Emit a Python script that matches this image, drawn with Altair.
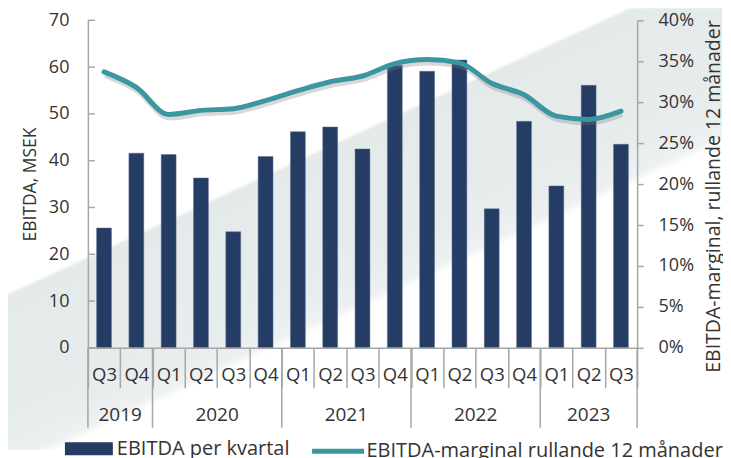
import altair as alt
import pandas as pd

# ---- data ----
quarters = ["Q3", "Q4", "Q1", "Q2", "Q3", "Q4", "Q1", "Q2", "Q3", "Q4",
            "Q1", "Q2", "Q3", "Q4", "Q1", "Q2", "Q3"]
years = [2019, 2019, 2020, 2020, 2020, 2020, 2021, 2021, 2021, 2021,
         2022, 2022, 2022, 2022, 2023, 2023, 2023]
ebitda = [25.6, 41.6, 41.3, 36.3, 24.8, 40.9, 46.2, 47.2, 42.5, 60.4,
          59.1, 61.5, 29.7, 48.4, 34.6, 56.1, 43.5]
margin_pct = [33.7, 31.8, 28.5, 29.0, 29.2, 30.2, 31.4, 32.5, 33.2, 34.7,
              35.2, 34.8, 32.3, 30.9, 28.3, 27.9, 28.9]
left_ticks = [0, 10, 20, 30, 40, 50, 60, 70]
right_ticks = [0, 0.05, 0.10, 0.15, 0.20, 0.25, 0.30, 0.35, 0.40]
bar_label = "EBITDA per kvartal"
line_label = "EBITDA-marginal rullande 12 månader"

keys = [f"{y} {q}" for y, q in zip(years, quarters)]
df = pd.DataFrame({"key": keys, "ebitda": ebitda,
                   "margin": [m / 100 for m in margin_pct],
                   "bar_series": bar_label, "line_series": line_label})

# year groups
year_list = sorted(set(years))
first_keys, mid_even, mid_odd = [], [], []
for yr in year_list:
    idx = [i for i, y in enumerate(years) if y == yr]
    first_keys.append(keys[idx[0]])
    n = len(idx)
    if n % 2 == 0:
        mid_even.append({"key": keys[idx[0] + n // 2], "year": str(yr)})
    else:
        mid_odd.append({"key": keys[idx[0] + n // 2], "year": str(yr)})

FONT = "Open Sans"
TXT = "#333333"
GRAY = "#a6a6a6"
NAVY = "#253c64"
TEAL = "#3a979f"

x_enc = alt.X("key:N", sort=keys, title=None,
              scale=alt.Scale(paddingInner=0, paddingOuter=0),
              axis=alt.Axis(labelExpr="split(datum.value, ' ')[1]", labelAngle=0,
                            tickBand="extent", tickSize=40, tickColor=GRAY, tickWidth=1.5,
                            domainColor=GRAY, domainWidth=1.5, labelPadding=-13,
                            labelFontSize=18.5, labelFont=FONT, labelColor=TXT,
                            labelBaseline="middle", zindex=1))

y_left = alt.Y("ebitda:Q", scale=alt.Scale(domain=[0, 70], nice=False),
               axis=alt.Axis(values=left_ticks, title="EBITDA, MSEK", grid=False,
                             ticks=False, tickSize=0, labelPadding=19,
                             domainColor=GRAY, domainWidth=1.5,
                             labelFontSize=18, labelFont=FONT, labelColor=TXT,
                             titleFont=FONT, titleFontSize=17.5, titleFontWeight="normal",
                             titleColor=TXT, titlePadding=9, zindex=1))

# background diagonal band
bg = alt.Chart(alt.Data(values=[{}])).mark_rect(
    fill=alt.LinearGradient(
        gradient="linear", x1=0, y1=0, x2=0.835, y2=1.1226,
        stops=[alt.GradientStop(color="#ffffff", offset=0),
               alt.GradientStop(color="#ffffff", offset=0.369),
               alt.GradientStop(color="#e4eaea", offset=0.374),
               alt.GradientStop(color="#e7ecec", offset=0.55),
               alt.GradientStop(color="#edf1f1", offset=0.59),
               alt.GradientStop(color="#ffffff", offset=0.603),
               alt.GradientStop(color="#ffffff", offset=1)])
).encode(x=alt.value(-80), x2=alt.value(635), y=alt.value(-12), y2=alt.value(430))

bars = alt.Chart(df).mark_bar(width={"band": 0.46}, stroke="#5d7090", strokeWidth=0.5).encode(
    x=x_enc, y=y_left,
    fill=alt.Fill("bar_series:N", scale=alt.Scale(range=[NAVY]),
                  legend=alt.Legend(title=None, orient="none", legendX=-23, legendY=405,
                                    symbolType="M-1,-0.27H1V0.27H-1Z", symbolSize=2304,
                                    labelFont=FONT, labelFontSize=20, labelColor=TXT,
                                    labelOffset=4, padding=0, symbolStrokeWidth=0,
                                    labelLimit=500)))

lt = alt.Chart(pd.DataFrame({"ebitda": left_ticks})).mark_rule(color=GRAY, strokeWidth=1.5).encode(
    y=y_left, x=alt.value(0), x2=alt.value(7))

year_rules = alt.Chart(pd.DataFrame({"key": first_keys})).mark_rule(color=GRAY, strokeWidth=1.5).encode(
    x=alt.X("key:N", sort=keys, bandPosition=0), y=alt.value(328), y2=alt.value(408))
end_rule = alt.Chart(pd.DataFrame({"key": [keys[-1]]})).mark_rule(color=GRAY, strokeWidth=1.5).encode(
    x=alt.X("key:N", sort=keys, bandPosition=1), y=alt.value(328), y2=alt.value(408))

ytxt_style = dict(font=FONT, fontSize=19, color=TXT, baseline="middle", align="center")
year_txt_a = alt.Chart(pd.DataFrame(mid_even)).mark_text(**ytxt_style).encode(
    x=alt.X("key:N", sort=keys, bandPosition=0), y=alt.value(395), text="year:N")
year_txt_b = alt.Chart(pd.DataFrame(mid_odd)).mark_text(**ytxt_style).encode(
    x=alt.X("key:N", sort=keys, bandPosition=0.5), y=alt.value(395), text="year:N")

left_group = alt.layer(bg, bars, lt, year_rules, end_rule, year_txt_a, year_txt_b)

y_right = alt.Y("margin:Q", scale=alt.Scale(domain=[0, 0.4], nice=False),
                axis=alt.Axis(orient="right", values=right_ticks, format=".0%", grid=False,
                              title="EBITDA-marginal, rullande 12 månader",
                              tickSize=6, tickColor=GRAY, tickWidth=1.5,
                              domainColor=GRAY, domainWidth=1.5, labelPadding=15,
                              labelFontSize=18, labelFont=FONT, labelColor=TXT,
                              titleFont=FONT, titleFontSize=19.5, titleFontWeight="normal",
                              titleColor=TXT, titleAngle=270, titlePadding=30,
                              titleY=176, zindex=1))

shadow = alt.Chart(df).mark_line(color="#7f7f7f", opacity=0.3, strokeWidth=6,
                                 interpolate="monotone", yOffset=3, xOffset=1).encode(
    x=alt.X("key:N", sort=keys), y=y_right)
line = alt.Chart(df).mark_line(strokeWidth=5, interpolate="monotone", strokeCap="round").encode(
    x=alt.X("key:N", sort=keys), y=y_right,
    stroke=alt.Stroke("line_series:N", scale=alt.Scale(range=[TEAL]),
                      legend=alt.Legend(title=None, orient="none", legendX=222, legendY=403,
                                        symbolType="stroke", symbolSize=2704,
                                        symbolStrokeWidth=5, labelFont=FONT, labelFontSize=20,
                                        labelColor=TXT, labelOffset=0, padding=0,
                                        labelLimit=500)))

right_group = alt.layer(shadow, line)

chart = alt.layer(left_group, right_group).resolve_scale(
    y="independent", fill="independent", stroke="independent"
).properties(width=550, height=328, padding=0).configure_view(stroke=None)

chart.save("out.html", embed_options={"renderer": "svg", "actions": False})
